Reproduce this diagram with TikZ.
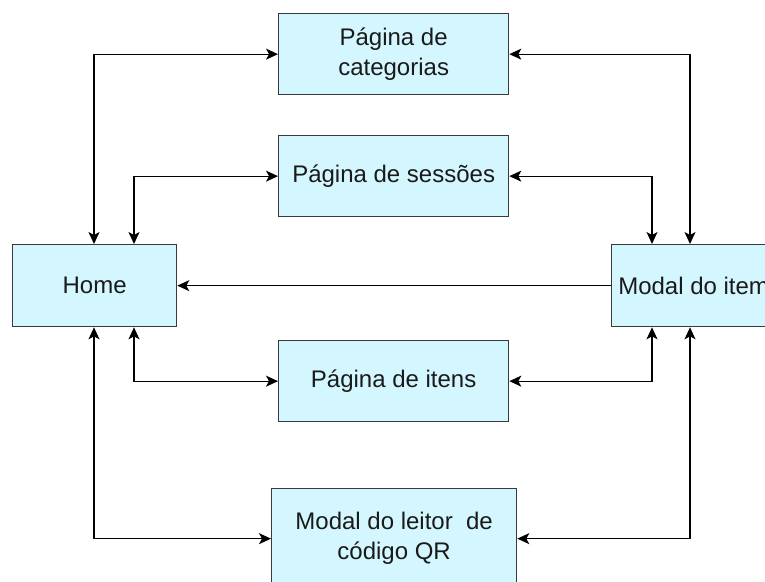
\documentclass[tikz,border=0pt]{standalone}
\usepackage{fontspec}
\setmainfont{Liberation Sans}
\usetikzlibrary{arrows.meta}
\definecolor{boxfill}{HTML}{D4F7FF}
\definecolor{boxline}{HTML}{36393D}
\definecolor{txt}{HTML}{1A1A1A}
\tikzset{
  box/.style={draw=boxline, line width=1.3pt, fill=boxfill, text=txt, align=center,
    font=\fontsize{24}{30}\selectfont, inner sep=0pt, anchor=north west},
  link/.style={line width=1.3pt, draw=black, {Stealth[length=12pt,width=11pt,inset=3pt]}-{Stealth[length=12pt,width=11pt,inset=3pt]}},
  onelink/.style={line width=1.3pt, draw=black, -{Stealth[length=12pt,width=11pt,inset=3pt]}}
}
\begin{document}
\begin{tikzpicture}[x=1pt,y=-1pt]
\useasboundingbox (0,0) rectangle (765,581);
\clip (0,0) rectangle (765,581);
\node[box, minimum width=164pt, minimum height=82pt] (home) at (12,244) {Home};
\node[box, minimum width=230pt, minimum height=81pt] (cat) at (278,13) {Página de\\categorias};
\node[box, minimum width=230pt, minimum height=81pt] (ses) at (278,135) {Página de sessões};
\node[box, minimum width=230pt, minimum height=81pt] (ite) at (278,340) {Página de itens};
\node[box, minimum width=245pt, minimum height=100pt] (qr) at (271,488) {Modal do leitor~ de\\código QR};
\node[box, minimum width=164pt, minimum height=82pt] (item) at (611,244) {Modal do item};
% connectors
\draw[onelink] (item.west) -- (home.east);
\draw[link] ([xshift=82pt]home.north west) |- (cat.west);
\draw[link] ([xshift=122pt]home.north west) |- (ses.west);
\draw[link] ([xshift=122pt]home.south west) |- (ite.west);
\draw[link] ([xshift=82pt]home.south west) |- (qr.west);
\draw[link] ([xshift=79pt]item.north west) |- (cat.east);
\draw[link] ([xshift=41pt]item.north west) |- (ses.east);
\draw[link] ([xshift=41pt]item.south west) |- (ite.east);
\draw[link] ([xshift=79pt]item.south west) |- (qr.east);
\end{tikzpicture}
\end{document}
